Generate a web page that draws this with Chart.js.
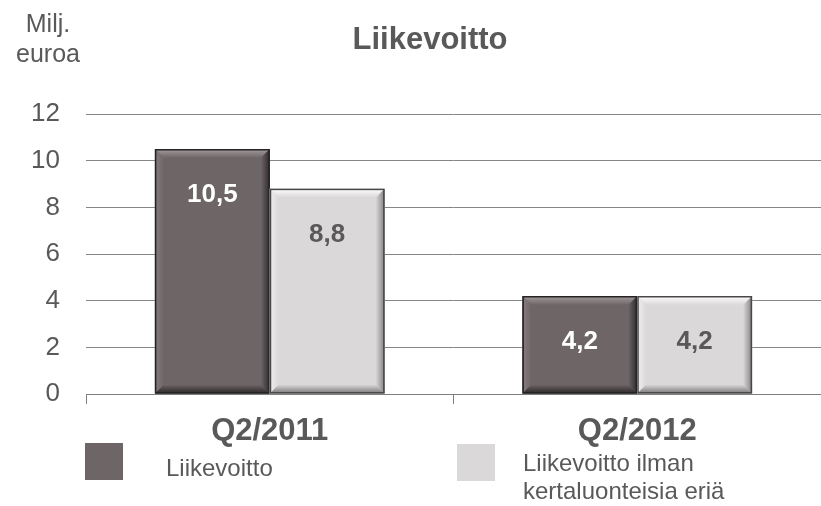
<!DOCTYPE html>
<html><head><meta charset="utf-8">
<script src="https://cdn.jsdelivr.net/npm/chart.js@4/dist/chart.umd.min.js"></script>
<style>html,body{margin:0;padding:0;background:#fff;overflow:hidden}#wrap{width:821px;height:506px;}</style>
</head><body><div id="wrap"><canvas id="c" width="821" height="506"></canvas></div>
<script>
// ---- data ----
const categories = ['Q2/2011', 'Q2/2012'];
const liikevoitto = [10.5, 4.2];
const ilmanKertaluonteisia = [8.8, 4.2];
const seriesNames = ['Liikevoitto', 'Liikevoitto ilman kertaluonteisia eriä'];
const legendLines = [['Liikevoitto'], ['Liikevoitto ilman', 'kertaluonteisia eriä']];
const valueLabels = [['10,5', '4,2'], ['8,8', '4,2']];
const yMin = 0, yMax = 12, yStep = 2;
const chartTitle = 'Liikevoitto';
const unitLines = ['Milj.', 'euroa'];

// ---- styles ----
const FONT = "'Liberation Sans', Arial, sans-serif";
const TEXT = '#595959';
const palettes = [
  {face:'#6e6567', top:'#a39c9d', left:'#857d7f', right:'#2f2a2c', bottom:'#2b2728', edge:'#262324', label:'#ffffff'},
  {face:'#dbd8d9', top:'#ffffff', left:'#f0eeef', right:'#858283', bottom:'#7a7778', edge:'#4a4748', label:TEXT}
];

function poly(ctx, pts, fill) {
  ctx.beginPath();
  ctx.moveTo(pts[0][0], pts[0][1]);
  for (let i = 1; i < pts.length; i++) ctx.lineTo(pts[i][0], pts[i][1]);
  ctx.closePath();
  ctx.fillStyle = fill;
  ctx.fill();
}

const bevelPlugin = {
  id: 'bevel',
  afterDatasetsDraw(chart) {
    const ctx = chart.ctx;
    ctx.save();
    chart.data.datasets.forEach((ds, di) => {
      const meta = chart.getDatasetMeta(di);
      const c = palettes[di];
      meta.data.forEach((bar, i) => {
        const p = bar.getProps(['x', 'y', 'base', 'width'], true);
        const l = p.x - p.width / 2, r = p.x + p.width / 2, t = p.y, b = p.base;
        const s = 9;
        ctx.fillStyle = c.face; ctx.fillRect(l, t, r - l, b - t);
        let g = ctx.createLinearGradient(0, t, 0, t + s);
        g.addColorStop(0, c.top); g.addColorStop(1, c.face);
        poly(ctx, [[l, t], [r, t], [r - s, t + s], [l + s, t + s]], g);
        g = ctx.createLinearGradient(l, 0, l + s, 0);
        g.addColorStop(0, c.left); g.addColorStop(1, c.face);
        poly(ctx, [[l, t], [l + s, t + s], [l + s, b - s], [l, b]], g);
        g = ctx.createLinearGradient(r - s, 0, r, 0);
        g.addColorStop(0, c.face); g.addColorStop(1, c.right);
        poly(ctx, [[r, t], [r, b], [r - s, b - s], [r - s, t + s]], g);
        g = ctx.createLinearGradient(0, b - s, 0, b);
        g.addColorStop(0, c.face); g.addColorStop(1, c.bottom);
        poly(ctx, [[l, b], [l + s, b - s], [r - s, b - s], [r, b]], g);
        ctx.strokeStyle = c.edge; ctx.lineWidth = 1.5;
        ctx.strokeRect(l + 0.75, t + 0.75, r - l - 1.5, b - t - 1.5);
        // value label
        ctx.fillStyle = c.label;
        ctx.font = 'bold 26px ' + FONT;
        ctx.textAlign = 'center';
        ctx.textBaseline = 'middle';
        ctx.fillText(valueLabels[di][i], p.x, t + 46);
      });
    });
    ctx.restore();
  },
  afterDraw(chart) {
    const ctx = chart.ctx;
    ctx.save();
    ctx.fillStyle = TEXT;
    ctx.textAlign = 'center';
    ctx.textBaseline = 'alphabetic';
    ctx.font = 'bold 31px ' + FONT;
    ctx.fillText(chartTitle, 430, 49);
    ctx.font = '25px ' + FONT;
    ctx.fillText(unitLines[0], 48, 32);
    ctx.fillText(unitLines[1], 48, 62);
    // legend
    const boxes = [[85, 443], [457, 444]];
    const textPos = [[166, 476, 28], [523, 471, 28]];
    ctx.textAlign = 'left';
    ctx.font = '24px ' + FONT;
    legendLines.forEach((lines, i) => {
      ctx.fillStyle = palettes[i].face;
      ctx.fillRect(boxes[i][0], boxes[i][1], 38, 37);
      ctx.fillStyle = TEXT;
      lines.forEach((ln, k) => ctx.fillText(ln, textPos[i][0], textPos[i][1] + k * textPos[i][2]));
    });
    ctx.restore();
  }
};

new Chart(document.getElementById('c'), {
  type: 'bar',
  data: {
    labels: categories,
    datasets: [
      {label: seriesNames[0], data: liikevoitto, backgroundColor: palettes[0].face, borderWidth: 0},
      {label: seriesNames[1], data: ilmanKertaluonteisia, backgroundColor: palettes[1].face, borderWidth: 0}
    ]
  },
  options: {
    responsive: false,
    animation: false,
    devicePixelRatio: 1,
    barPercentage: 1,
    categoryPercentage: 0.625,
    layout: {padding: {top: 114, left: 0, right: 0, bottom: 0}},
    plugins: {legend: {display: false}, title: {display: false}, tooltip: {enabled: false}},
    scales: {
      x: {
        offset: true,
        grid: {offset: true, drawOnChartArea: false, drawTicks: true, tickLength: 10, color: '#7f7f7f', lineWidth: 1},
        border: {display: true, color: '#7f7f7f', width: 1},
        ticks: {font: {family: FONT, size: 31, weight: 'bold'}, color: TEXT, padding: 9},
        afterFit: s => { s.height = 112; }
      },
      y: {
        min: yMin, max: yMax,
        ticks: {stepSize: yStep, font: {family: FONT, size: 26}, color: TEXT, padding: 26},
        grid: {color: '#868686', lineWidth: 1, drawTicks: false},
        border: {display: false},
        afterFit: s => { s.width = 86; }
      }
    }
  },
  plugins: [bevelPlugin]
});
</script>
</body></html>
